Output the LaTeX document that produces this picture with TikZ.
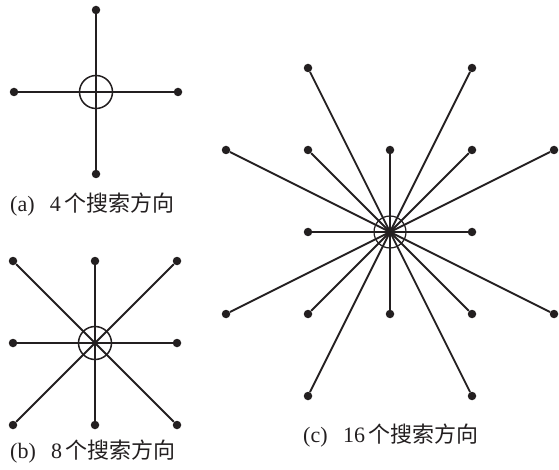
\documentclass[tikz,border=0pt]{standalone}
\usepackage{fontspec}
\setmainfont{Liberation Serif}
\newfontfamily\cjk{Noto Sans CJK SC}
\usetikzlibrary{calc}
\definecolor{ink}{HTML}{231F20}
\begin{document}
\begin{tikzpicture}[x=1pt,y=-1pt,
  dot/.style={circle,fill=ink,inner sep=0pt,minimum size=8.5pt},
  ray/.style={draw=ink,line width=1.8pt},
  ring/.style={draw=ink,line width=1.5pt},
  captext/.style={anchor=west,inner sep=0pt,font=\fontsize{22}{24}\selectfont,text=ink}]
\useasboundingbox (0,0) rectangle (559,470);
% (a)
\coordinate (oa) at (96,92);
\foreach \n/\dx/\dy in {n/0/-1,s/0/1,w/-1/0,e/1/0}{
  \node[dot] (a\n) at ($(oa)+(82*\dx,82*\dy)$) {};
}
\draw[ray] (an) -- (as);
\draw[ray] (aw) -- (ae);
\draw[ring] (oa) circle (16.5);
\node[captext] (la) at (10,205) {(a)\hspace{0.7em}4{\cjk\,个搜索方向}};
% (b)
\coordinate (ob) at (95,343);
\foreach \n/\dx/\dy in {n/0/-1,s/0/1,w/-1/0,e/1/0,nw/-1/-1,ne/1/-1,sw/-1/1,se/1/1}{
  \node[dot] (b\n) at ($(ob)+(82*\dx,82*\dy)$) {};
  \draw[ray] (ob) -- (b\n);
}
\draw[ring] (ob) circle (16.5);
\node[captext] (lb) at (10,452) {(b)\hspace{0.7em}8{\cjk\,个搜索方向}};
% (c)
\coordinate (oc) at (390,232);
\foreach \n/\dx/\dy in {a/0/-1,b/0/1,c/-1/0,d/1/0,e/-1/-1,f/1/-1,g/-1/1,h/1/1,
                        i/-1/-2,j/1/-2,k/-1/2,l/1/2,m/-2/-1,n/2/-1,o/-2/1,p/2/1}{
  \node[dot] (c\n) at ($(oc)+(82*\dx,82*\dy)$) {};
  \draw[ray] (oc) -- (c\n);
}
\draw[ring,line width=1.2pt] (oc) circle (16);
\node[captext] (lc) at (303,436) {(c)\hspace{0.7em}16{\cjk\,个搜索方向}};
\end{tikzpicture}
\end{document}
